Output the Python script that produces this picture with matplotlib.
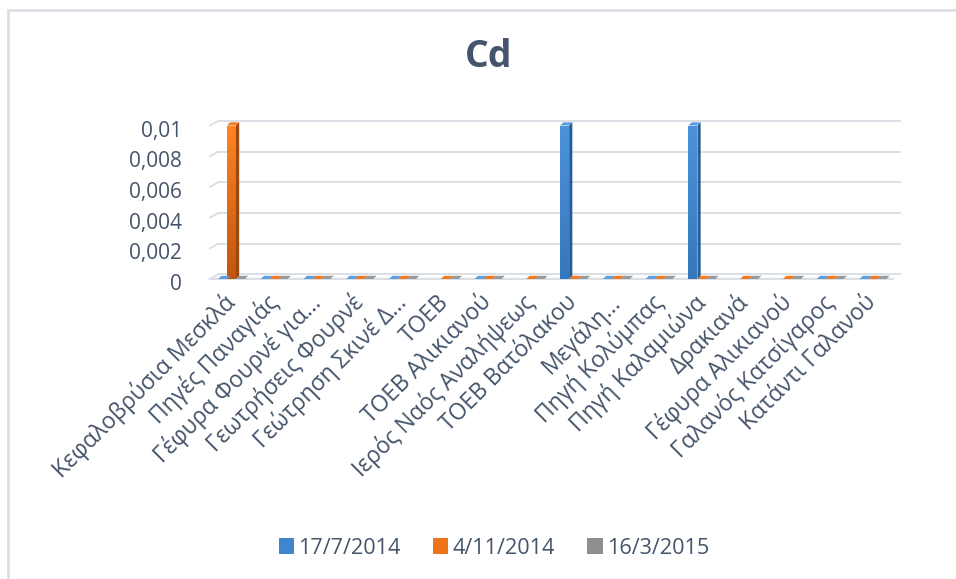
import numpy as np
import matplotlib
matplotlib.use('Agg')
import matplotlib.pyplot as plt
from matplotlib.patches import Polygon, Patch
from matplotlib.colors import LinearSegmentedColormap
import matplotlib.transforms as mtransforms

nan = np.nan
categories = ['Κεφαλοβρύσια Μεσκλά', 'Πηγές Παναγιάς', 'Γέφυρα Φουρνέ για…',
              'Γεωτρήσεις Φουρνέ', 'Γεώτρηση Σκινέ Δ…', 'ΤΟΕΒ', 'ΤΟΕΒ Αλικιανού',
              'Ιερός Ναός Αναλήψεως', 'ΤΟΕΒ Βατόλακου', 'Μεγάλη…', 'Πηγή Κολύμπας',
              'Πηγή Καλαμιώνα', 'Δρακιανά', 'Γέφυρα Αλικιανού', 'Γαλανός Κατσίγαρος',
              'Κατάντι Γαλανού']
series_names = ['17/7/2014', '4/11/2014', '16/3/2015']
vals_17_7_2014 = [0, 0, 0, 0, 0, nan, 0, nan, 0.01, 0, 0, 0.01, nan, nan, 0, 0]
vals_4_11_2014 = [0.01, 0, 0, 0, 0, 0, 0, 0, 0, 0, 0, 0, 0, 0, 0, 0]
vals_16_3_2015 = [0, 0, 0, 0, 0, 0, 0, 0, 0, 0, 0, 0, 0, 0, 0, 0]
yticks = [0, 0.002, 0.004, 0.006, 0.008, 0.01]
ytick_labels = ['0', '0,002', '0,004', '0,006', '0,008', '0,01']

TXT = '#44546A'
plt.rcParams['font.family'] = ['Open Sans', 'DejaVu Sans']

W, H = 956, 579
fig = plt.figure(figsize=(W / 100, H / 100), dpi=100)
fig.patch.set_facecolor('white')

ax_l, ax_r, ax_b, ax_t = 210.1, 894.4, 279.0, 125.5
ax = fig.add_axes([ax_l / W, 1 - ax_b / H, (ax_r - ax_l) / W, (ax_b - ax_t) / H])
n = len(categories)
x = np.arange(n)
xlim = (-0.5, n - 0.5)
ylim = (0, 0.01)
sx = (ax_r - ax_l) / (xlim[1] - xlim[0])
sy = (ax_b - ax_t) / (ylim[1] - ylim[0])

# 3D back wall gridlines
gdx, gdy = 8 / sx, 4.5 / sy
gcol = '#DADFE6'
for yv in yticks:
    ax.plot([xlim[0], xlim[0] + gdx], [yv, yv + gdy], color=gcol, lw=1.4, clip_on=False, zorder=1)
    ax.plot([xlim[0] + gdx, xlim[1] + gdx * 0.7], [yv + gdy, yv + gdy], color=gcol, lw=1.4,
            clip_on=False, zorder=1)
ax.plot([xlim[0], xlim[1] - gdx * 0.2], [0, 0], color=gcol, lw=1.6, clip_on=False, zorder=1)

series = [vals_17_7_2014, vals_4_11_2014, vals_16_3_2015]
styles = [
    dict(top='#4C93DB', bot='#3577BC', side='#2A5D8F', cap='#5E9FE0'),
    dict(top='#FF8424', bot='#C05610', side='#9E480C', cap='#F07A20'),
    dict(top='#A3A3A3', bot='#858585', side='#6C6C6C', cap='#999999'),
]
bw = 0.21
offsets = [-bw, 0, bw]
ddx, ddy = 3.2 / sx, 3.2 / sy
grad = np.linspace(1, 0, 256).reshape(-1, 1)

for vals, st, off, name in zip(series, styles, offsets, series_names):
    v = np.array(vals, dtype=float)
    bars = ax.bar(x + off, np.nan_to_num(v), width=bw, color=st['top'], linewidth=0,
                  zorder=3, label=name)
    cmap = LinearSegmentedColormap.from_list('g', [st['bot'], st['top']])
    for b, val in zip(bars, v):
        if np.isnan(val):
            b.set_visible(False)
            continue
        x0 = b.get_x()
        x1 = x0 + b.get_width()
        h = b.get_height()
        if h > 0:
            im = ax.imshow(grad, extent=[x0, x1, 0, h], cmap=cmap, aspect='auto',
                           origin='upper', zorder=3.1, interpolation='bilinear')
            im.set_clip_path(b)
        side = Polygon([(x1, 0), (x1 + ddx, ddy), (x1 + ddx, h + ddy), (x1, h)],
                       closed=True, facecolor=st['side'], edgecolor='none', zorder=3.2,
                       clip_on=False)
        cap = Polygon([(x0, h), (x1, h), (x1 + ddx, h + ddy), (x0 + ddx, h + ddy)],
                      closed=True, facecolor=st['cap'], edgecolor='none', zorder=3.3,
                      clip_on=False)
        ax.add_patch(side)
        ax.add_patch(cap)

ax.set_xlim(*xlim)
ax.set_ylim(*ylim)
ax.set_aspect('auto')
for s in ax.spines.values():
    s.set_visible(False)
ax.set_yticks(yticks)
ax.set_yticklabels(ytick_labels, color=TXT, fontsize=15)
ax.set_xticks(x)
ax.set_xticklabels(categories, rotation=45, ha='right', va='center', rotation_mode='anchor',
                   color=TXT, fontsize=16.4)
ax.tick_params(axis='y', length=0, pad=20)
ax.tick_params(axis='x', length=0, pad=14.5)
ax.set_facecolor('none')
shift = mtransforms.ScaledTranslation(0, -3 / 100, fig.dpi_scale_trans)
for lbl in ax.get_yticklabels():
    lbl.set_transform(lbl.get_transform() + shift)

fig.text(489 / W, 1 - 57 / H, 'Cd', ha='center', va='center', fontsize=27,
         fontweight='bold', color=TXT)

handles = [Patch(facecolor=c, edgecolor='none') for c in ['#3F86CF', '#EE7218', '#8E8E8E']]
fig.legend(handles, series_names, loc='center', bbox_to_anchor=(494 / W, 1 - 548 / H),
           ncol=3, frameon=False, fontsize=15.6, handlelength=0.7, handleheight=0.7,
           handletextpad=0.2, columnspacing=1.5, labelcolor=TXT)

# chart frame (left and top edges visible)
bcol = '#DCE0E7'
fig.add_artist(plt.Line2D([8 / W, 8 / W], [0, 1 - 9.5 / H], transform=fig.transFigure,
                          color=bcol, lw=2))
fig.add_artist(plt.Line2D([8 / W, 1], [1 - 9.5 / H, 1 - 9.5 / H], transform=fig.transFigure,
                          color=bcol, lw=2))

fig.savefig('out.png', dpi=100, facecolor='white')
